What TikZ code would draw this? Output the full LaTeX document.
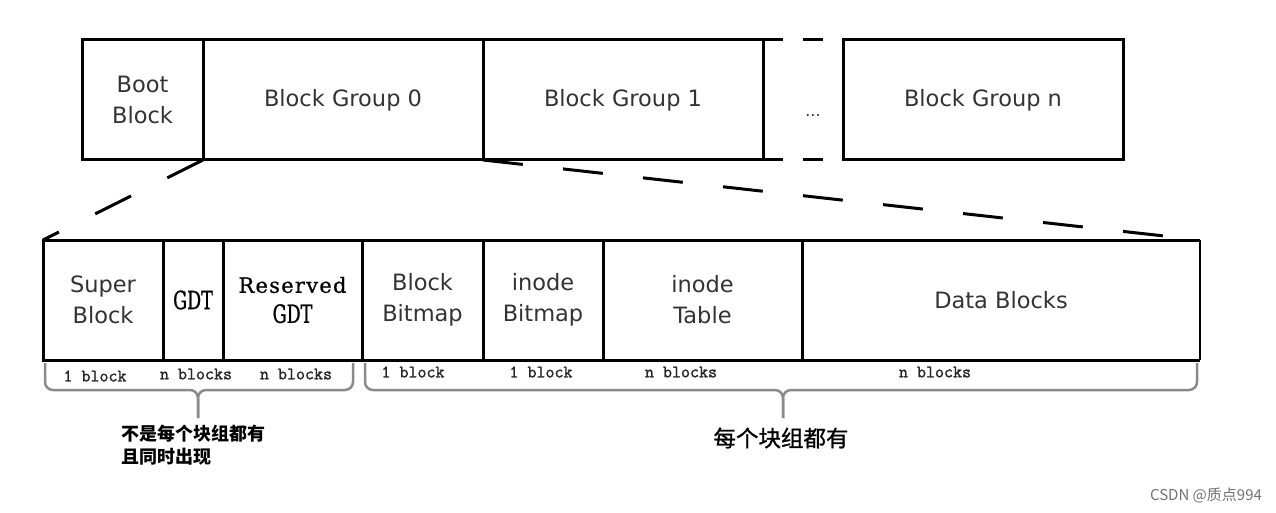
\documentclass[tikz,border=0pt]{standalone}
\usepackage{fontspec}
\setmainfont{DejaVu Sans}
\newfontfamily\serifG[FakeBold=1.2]{DejaVu Serif}
\newfontfamily\serifR[FakeBold=0.8, LetterSpace=6]{DejaVu Serif}
\newfontfamily\subtt[FakeBold=1.5]{Latin Modern Mono}
\newfontfamily\cjk{Noto Sans CJK SC}
\newfontfamily\cjkm[FakeBold=1]{Noto Sans CJK SC}
\definecolor{txt}{HTML}{333333}
\definecolor{brc}{HTML}{8A8A8A}
\begin{document}
\begin{tikzpicture}[x=1pt,y=-1pt,
  cell/.style={draw=black, line width=3pt, inner sep=0pt, outer sep=0pt, anchor=north west,
    minimum height=120pt, align=center, text=txt, font=\fontsize{22.5}{31}\selectfont},
  dashlink/.style={line width=3pt, dash pattern=on 40pt off 40.5pt},
  gapdash/.style={line width=3pt, dash pattern=on 20pt off 19.5pt},
  brace/.style={draw=brc, line width=2.5pt, rounded corners=8pt},
  sub/.style={font=\subtt\fontsize{17.5}{17.5}\selectfont, text=black!85},
]
\useasboundingbox (0,0) rectangle (1276,513);
% top row
\node[cell, minimum width=121pt] (boot) at (82,40) {Boot\\Block};
\node[cell, minimum width=280pt] (bg0) at (203,40) {Block Group 0};
\node[cell, minimum width=280pt] (bg1) at (483,40) {Block Group 1};
\node[cell, minimum width=280pt] (bgn) at (843,40) {Block Group n};
\draw[gapdash] (bg1.north east) -- (bgn.north west);
\draw[gapdash] (bg1.south east) -- (bgn.south west);
\node[font=\fontsize{16}{16}\selectfont, text=txt] (dots) at (813,116) {...};
% lower row
\node[cell, minimum width=120pt] (super) at (43,240) {Super\\Block};
\node[cell, minimum width=60pt, font=\serifG\fontsize{25}{30}\selectfont, text=black] (gdt) at (163,240) {\scalebox{0.7}[1]{GDT}};
\node[cell, minimum width=139pt, font=\serifR\fontsize{21}{32}\selectfont, text=black] (rgdt) at (223,240) {Reserved\\[-2pt]{\serifG\fontsize{25}{25}\selectfont\scalebox{0.7}[1]{GDT}}};
\node[cell, minimum width=121pt] (bbm) at (362,240) {Block\\Bitmap};
\node[cell, minimum width=120pt] (ibm) at (483,240) {inode\\Bitmap};
\node[cell, minimum width=199pt] (itab) at (603,240) {inode\\Table};
\node[cell, draw=none, minimum width=398pt] (data) at (802,240) {Data Blocks};
\draw[line width=3pt] (data.north west) -- (data.north east);
\draw[line width=3pt] (data.south west) -- (data.south east);
\draw[line width=1.5pt] (data.north east) -- (data.south east);
% zoom lines
\draw[dashlink] (boot.south east) -- (super.north west);
\draw[dashlink] (bg0.south east) -- (data.north east);
% sizes
\node[sub] (s1) at (95,376) {1 block};
\node[sub] (s2) at (196,374) {n blocks};
\node[sub] (s3) at (296,374) {n blocks};
\node[sub] (s4) at (413,372) {1 block};
\node[sub] (s5) at (541,372) {1 block};
\node[sub] (s6) at (681,372) {n blocks};
\node[sub] (s7) at (935,372) {n blocks};
% braces
\coordinate (lb1) at (45,363); \coordinate (lb2) at (353,363);
\coordinate (lbm) at (198,390); \coordinate (lbt) at (198,418);
\draw[brace] (lb1) -- (45,390) -- (lbm) -- (lbt);
\draw[brace] (lb2) -- (353,390) -- (lbm) -- (lbt);
\coordinate (rb1) at (365,363); \coordinate (rb2) at (1197,363);
\coordinate (rbm) at (783,390); \coordinate (rbt) at (783,418);
\draw[brace] (rb1) -- (365,390) -- (rbm) -- (rbt);
\draw[brace] (rb2) -- (1197,390) -- (rbm) -- (rbt);
% notes
\node[anchor=north west, align=left, inner sep=0pt, font=\cjk\bfseries\fontsize{18}{22.5}\selectfont] (note1) at (121,425) {不是每个块组都有\\且同时出现};
\node[font=\cjkm\fontsize{22.5}{22.5}\selectfont] (note2) at (781,438) {每个块组都有};
\node[font=\cjk\fontsize{15}{15}\selectfont, text=black!55] (wm) at (1206,495) {CSDN @质点994};
\end{tikzpicture}
\end{document}
